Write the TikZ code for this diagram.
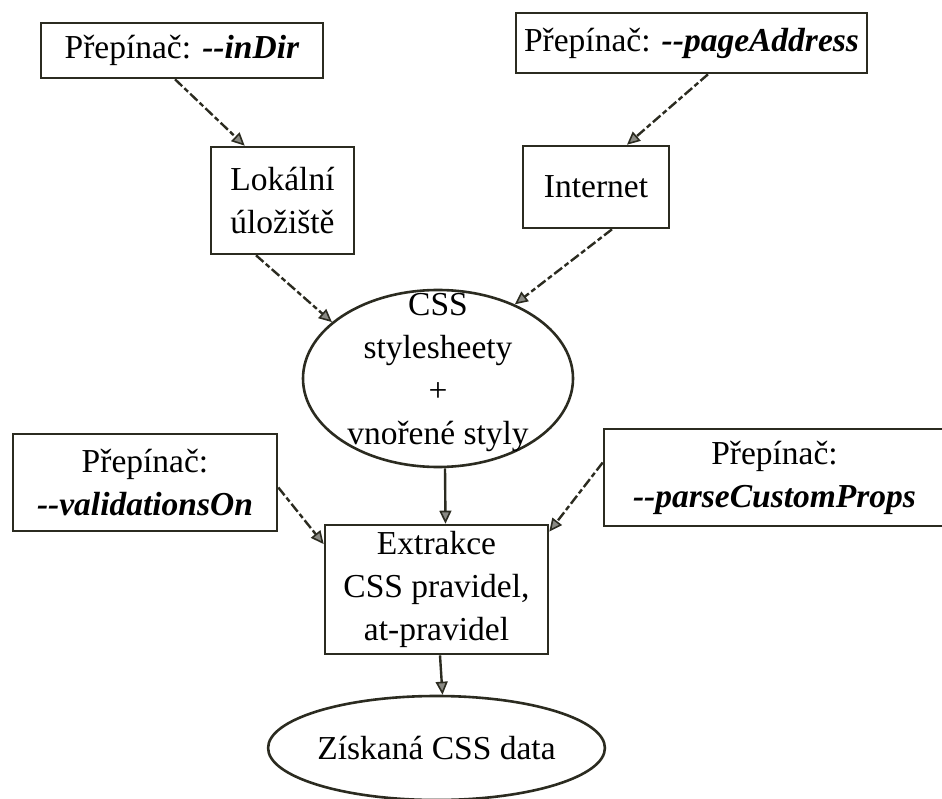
\documentclass[tikz,border=0pt]{standalone}
\usepackage{fontspec}
\setmainfont{Liberation Serif}
\usetikzlibrary{shapes.geometric,arrows.meta,calc}
\definecolor{ln}{HTML}{2B2B20}
\begin{document}
\begin{tikzpicture}[x=1pt,y=-1pt,
  every node/.style={font=\fontsize{33.5}{43}\selectfont, text=black},
  box/.style={draw=ln, line width=2.6pt, rectangle, inner sep=0pt, align=center},
  oval/.style={draw=ln, line width=2.6pt, ellipse, inner sep=0pt},
  solidarr/.style={draw=ln, line width=2.4pt, -{Triangle[length=13pt,width=12pt,fill=ln!55,line width=1.6pt]}},
  dasharr/.style={solidarr, dash pattern=on 10pt off 3pt on 5pt off 3pt}]
\useasboundingbox (0,0) rectangle (942,799);
\node[box, minimum width=282pt, minimum height=55pt] (indir) at (182,50.5) {Přepínač: \textbf{\textit{-{}-inDir}}};
\node[box, minimum width=351pt, minimum height=60pt] (page) at (691.5,43) {Přepínač: \textbf{\textit{-{}-pageAddress}}};
\node[box, minimum width=143pt, minimum height=107pt] (lok) at (282.5,200.5) {Lokální\\úložiště};
\node[box, minimum width=146pt, minimum height=82pt] (inet) at (596,187) {Internet};
\node[oval, minimum width=270pt, minimum height=177pt] (css) at (438,378.5) {};
\node[align=center, inner sep=0pt] (csstext) at (438,373) {CSS\\stylesheety\\+\\vnořené styly};
\node[box, minimum width=264pt, minimum height=97pt] (val) at (145,482.5) {Přepínač:\\\textbf{\textit{-{}-validationsOn}}};
\node[box, minimum width=341pt, minimum height=97pt] (parse) at (774.5,477.5) {Přepínač:\\\textbf{\textit{-{}-parseCustomProps}}};
\node[box, minimum width=223pt, minimum height=129pt] (ext) at (436.5,589.5) {Extrakce\\CSS pravidel,\\at-pravidel};
\node[oval, minimum width=257pt, minimum height=104pt] (zis) at (436.5,748) {Získaná CSS data};
\draw[dasharr] ([xshift=-7pt]indir.south) -- ([xshift=35pt]lok.north west);
\draw[dasharr] ([xshift=16.5pt]page.south) -- ([xshift=31pt]inet.north);
\draw[dasharr] ([xshift=-26.5pt]lok.south) -- (css.152);
\draw[dasharr] ([xshift=16pt]inet.south) -- (css.44);
\draw[solidarr] ([xshift=7pt]css.south) -- ([xshift=9pt]ext.north);
\draw[dasharr] ($(val.north east)!0.55!(val.south east)$) -- ($(ext.north west)!0.155!(ext.south west)$);
\draw[dasharr] ($(parse.north west)!0.35!(parse.south west)$) -- ($(ext.north east)!0.06!(ext.south east)$);
\draw[solidarr] ([xshift=3.5pt]ext.south) -- ([xshift=6pt]zis.north);
\end{tikzpicture}
\end{document}
